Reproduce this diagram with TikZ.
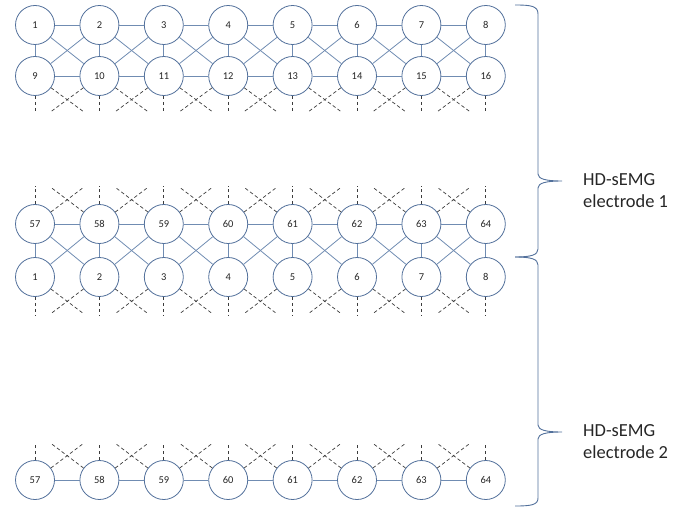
\documentclass[tikz,border=0pt]{standalone}
\usepackage{fontspec}
\setmainfont{Carlito}
\definecolor{circ}{RGB}{82,112,155}
\definecolor{link}{RGB}{112,140,178}
\definecolor{dsh}{RGB}{60,60,60}
\begin{document}
\begin{tikzpicture}[x=1bp,y=-1bp,
  elec/.style={circle,draw=circ,line width=0.8pt,fill=white,minimum size=39bp,inner sep=0pt,font=\fontsize{10.5}{12}\selectfont,text=black!85},
  wire/.style={draw=link,line width=0.8pt},
  dwire/.style={draw=dsh,line width=0.7pt,dash pattern=on 3.5pt off 2.5pt},
  bracestyle/.style={draw=circ,line width=0.9pt},
  lbl/.style={anchor=base west,inner sep=0pt,font=\fontsize{18.5}{21}\selectfont,text=black!85}]
\useasboundingbox (0,0) rectangle (697,508);
% nodes
\foreach \i in {1,...,8}{
  \pgfmathsetmacro{\cx}{35+64.4*(\i-1)}
  \pgfmathtruncatemacro{\nb}{\i+8}
  \pgfmathtruncatemacro{\nc}{\i+56}
  \node[elec] (a\i) at (\cx,25) {\i};
  \node[elec] (b\i) at (\cx,76) {\nb};
  \node[elec] (c\i) at (\cx,224) {\nc};
  \node[elec] (d\i) at (\cx,277) {\i};
  \node[elec] (e\i) at (\cx,480) {\nc};
}
% solid connectors
\foreach \i in {1,...,8}{
  \draw[wire] (a\i) -- (b\i);
  \draw[wire] (c\i) -- (d\i);
}
\foreach \i in {1,...,7}{
  \pgfmathtruncatemacro{\j}{\i+1}
  \draw[wire] (a\i) -- (a\j);
  \draw[wire] (b\i) -- (b\j);
  \draw[wire] (c\i) -- (c\j);
  \draw[wire] (e\i) -- (e\j);
  \draw[wire] (a\i) -- (b\j);
  \draw[wire] (a\j) -- (b\i);
  \draw[wire] (c\i) -- (d\j);
  \draw[wire] (c\j) -- (d\i);
}
% dashed continuations
\foreach \i in {1,...,8}{
  \draw[dwire] (b\i) -- ++(0,37);
  \draw[dwire] (c\i) -- ++(0,-38);
  \draw[dwire] (d\i) -- ++(0,39);
  \draw[dwire] (e\i) -- ++(0,-37);
}
\foreach \i in {1,...,7}{
  \pgfmathtruncatemacro{\j}{\i+1}
  \draw[dwire] (b\i) -- ++(49,36);
  \draw[dwire] (b\j) -- ++(-49,36);
  \draw[dwire] (c\i) -- ++(49,-37);
  \draw[dwire] (c\j) -- ++(-49,-37);
  \draw[dwire] (d\i) -- ++(49,37);
  \draw[dwire] (d\j) -- ++(-49,37);
  \draw[dwire] (e\i) -- ++(49,-37);
  \draw[dwire] (e\j) -- ++(-49,-37);
}
% braces
\draw[bracestyle] (515,5) .. controls (531,5) and (538,6) .. (538,14)
  -- (538,174) .. controls (538,179) and (546,181) .. (562,181)
  .. controls (546,181) and (538,183) .. (538,188)
  -- (538,249) .. controls (538,255) and (531,257) .. (515,257);
\draw[bracestyle] (515,257) .. controls (531,257) and (538,259) .. (538,265)
  -- (538,425) .. controls (538,430) and (546,432) .. (562,432)
  .. controls (546,432) and (538,434) .. (538,439)
  -- (538,498) .. controls (538,505) and (531,506) .. (515,506);
% labels
\node[lbl] (l1a) at (583,186) {HD-sEMG};
\node[lbl] (l1b) at (583,208) {electrode 1};
\node[lbl] (l2a) at (583,436) {HD-sEMG};
\node[lbl] (l2b) at (583,458) {electrode 2};
\end{tikzpicture}
\end{document}
